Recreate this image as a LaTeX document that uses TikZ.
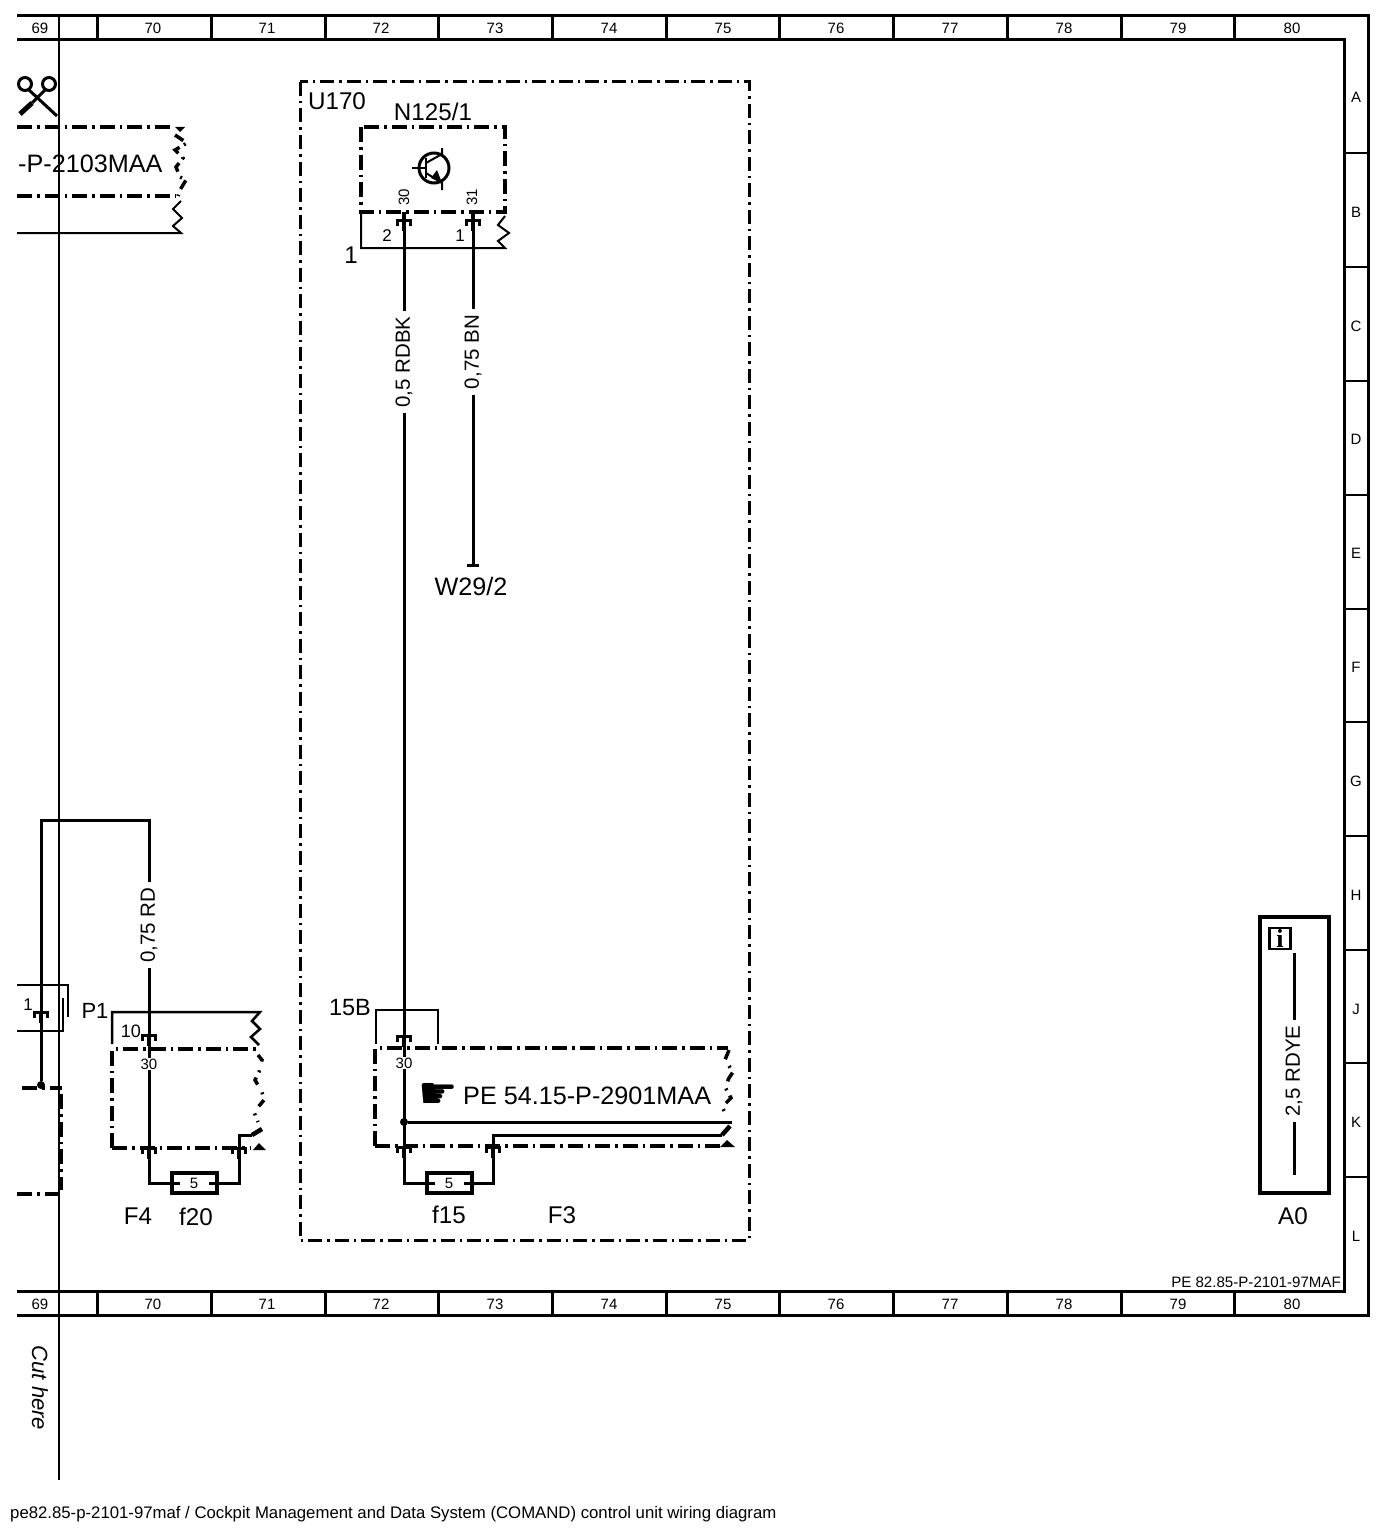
\documentclass[tikz,border=0pt]{standalone}
\usepackage{fontspec}
\setmainfont{Liberation Sans}
\newfontfamily\symfont{DejaVu Sans}
\newfontfamily\infofont{Liberation Serif}
\usetikzlibrary{positioning, calc}

\tikzset{
	biglabel/.style={font=\fontsize{25.2}{25}\selectfont, inner sep=0pt},
	midlabel/.style={font=\fontsize{24.2}{24}\selectfont, inner sep=0pt},
	framelabel/.style={font=\fontsize{15}{15}\selectfont, inner sep=0pt, anchor=base},
	ticklabel/.style={font=\fontsize{15}{15}\selectfont, inner sep=0pt},
	wirelabel/.style={font=\fontsize{20.5}{20}\selectfont, rotate=90, inner sep=5.5pt},
	pinlabel/.style={font=\fontsize{15}{15}\selectfont, inner sep=1pt, fill=white},
	wire/.style={line width=3pt},
	thinwire/.style={line width=2pt},
	stem/.style={line width=4.5pt},
	frameline/.style={line width=3pt},
	dashbox/.style={line width=4pt, dash pattern=on 15pt off 5pt on 2.5pt off 5pt},
	fusebox/.style={draw, line width=4pt, minimum width=45pt, minimum height=20pt, inner sep=0pt, font=\fontsize{15}{15}\selectfont}
}

\newcommand{\pinmark}[1]{
	\draw[line width=3pt] ([shift={(-6.5,5.5)}]#1) -- ++(0,-5.5) -- ++(13,0) -- ++(0,5.5);
	\draw[stem] (#1) -- ++(0,11);
}

\begin{document}
\begin{tikzpicture}[x=1pt, y=-1pt]
	\useasboundingbox (0,0) rectangle (1388,1536);
	\fill[white] (0,0) rectangle (1388,1536);

	%//sheet frame
	\draw[frameline] (17,16) -- (1368,16) -- (1368,1315) -- (17,1315);
	\draw[frameline] (17,40) -- (1344,40) -- (1344,1291) -- (17,1291);
	\foreach \x in {97,211,325,438,552,666,779,893,1007,1121,1234}
	{
		\draw[frameline] (\x,16) -- (\x,40);
		\draw[frameline] (\x,1291) -- (\x,1315);
	}
	\foreach \y in {153,267,381,495,609,722,836,950,1063,1177}
	\draw[line width=2.5pt] (1344,\y) -- (1368,\y);

	\foreach \x/\val in {40/69,153/70,267/71,381/72,495/73,609/74,723/75,836/76,950/77,1064/78,1178/79,1292/80}
	{
		\node[framelabel] (top\val) at (\x,34) {\val};
		\node[framelabel] (bot\val) at (\x,1309) {\val};
	}
	\foreach \y/\val in {103/A,217/B,331/C,444/D,558/E,672/F,786/G,900/H,1014/J,1127/K,1241/L}
	\node[framelabel] (row\val) at (1356,\y) {\val};

	\node[ticklabel, font=\fontsize{15.1}{15}\selectfont, anchor=east] (sheetref) at (1341,1282) {PE 82.85-P-2101-97MAF};
	\node[font=\fontsize{16.75}{17}\selectfont, inner sep=0pt, anchor=west] (caption) at (10,1514) {pe82.85-p-2101-97maf / Cockpit Management and Data System (COMAND) control unit wiring diagram};
	\node[font=\itshape\fontsize{22}{22}\selectfont, inner sep=0pt, rotate=-90] (cuthere) at (40,1388) {Cut here};

	%//scissors
	\draw[line width=3pt] (25,84) circle (6.5pt) (49,84) circle (6.5pt);
	\draw[line width=3pt] (29,90) -- (57,116);
	\draw[line width=3pt] (45,90) -- (32,103);
	\draw[line width=5pt] (32,103) -- (20,114);

	%//sheet 2103 reference, top left
	\draw[dashbox] (17,127) -- (172,127);
	\fill (175,127) -- (185,127) -- (180,132) -- cycle;
	\draw[dashbox] (17,196) -- (176,196);
	\draw[line width=3.5pt, dash pattern=on 10pt off 6pt on 2pt off 5pt] (175,135) -- (187,143) -- (175,150) -- (183,158) -- (176,167) -- (180,177) -- (186,180) -- (180,190) -- (178,196);
	\draw[thinwire] (17,233) -- (181,233) -- (173,226) -- (182,218) -- (173,209) -- (181,201);
	\node[biglabel, anchor=west] (ref2103) at (18,164) {-P-2103MAA};

	%//unit U170
	\draw[line width=3pt, dash pattern=on 14pt off 5pt on 2.5pt off 5pt] (300,82) rectangle (749,1240);
	\node[midlabel] (u170) at (337,101) {U170};

	%//N125/1 with the transistor
	\node[midlabel] (n125) at (433,112) {N125/1};
	\draw[dashbox] (361,127) rectangle (505,212);
	\node[circle, draw, line width=3pt, minimum size=30pt, inner sep=0pt] (tr) at (434,168) {};
	\draw[line width=2pt] (412,168) -- (426,168);
	\draw[line width=2.5pt] (426,158) -- (426,178);
	\draw[line width=2pt] (426,163) -- (442,154) -- (442,148);
	\draw[line width=2pt] (426,173) -- (442,183) -- (442,190);
	\fill (442,183) -- (431,178) -- (437,170) -- cycle;
	\draw[thinwire] (361,212) -- (361,248) -- (505,248) -- (498,241) -- (509,233) -- (498,225) -- (505,216);
	\node[midlabel] (shield1) at (351,255) {1};

	\coordinate (pin30) at (404,220);
	\coordinate (pin31) at (473,220);
	\pinmark{pin30}
	\pinmark{pin31}
	\draw[stem] (pin30) -- ++(0,-8);
	\draw[stem] (pin31) -- ++(0,-8);
	\node[ticklabel, rotate=90] (n30) at (404,197) {30};
	\node[ticklabel, rotate=90] (n31) at (472,197) {31};
	\node[ticklabel, font=\fontsize{17}{17}\selectfont] (n2) at (387,236) {2};
	\node[ticklabel, font=\fontsize{17}{17}\selectfont] (n1) at (460,236) {1};

	\node[wirelabel] (w05) at (404,362) {0,5 RDBK};
	\node[wirelabel] (w075) at (473,352) {0,75 BN};
	\coordinate (pin15) at (404,1036);
	\coordinate (end29) at (473,565);
	\draw[wire] (pin30) -- (w05);
	\draw[wire] (w05) -- (pin15);
	\draw[wire] (pin31) -- (w075);
	\draw[wire] (w075) -- (end29);
	\draw[wire] (467,565) -- (479,565);
	\node[biglabel] (w29) at (471,586) {W29/2};

	%//fuse f15, F3
	\node[biglabel, font=\fontsize{23.5}{24}\selectfont] (n15b) at (350,1008) {15B};
	\draw[thinwire] (376,1044) -- (376,1010) -- (438,1010) -- (438,1044);
	\draw[dashbox] (375,1146) -- (375,1048) -- (728,1048);
	\draw[dashbox] (375,1146) -- (720,1146);
	\draw[line width=3.5pt, dash pattern=on 10pt off 8pt on 2pt off 6pt] (729,1050) -- (725,1060) -- (733,1072) -- (729,1078) -- (725,1087) -- (731,1098) -- (722,1107) -- (727,1116);
	\fill (720,1147) -- (735,1147) -- (727,1140) -- cycle;
	\coordinate (pinf15a) at (404,1147);
	\coordinate (pinf15b) at (493,1147);
	\pinmark{pin15}
	\node[fusebox] (f15) at (449,1183) {5};
	\draw[wire] (pin15) -- (pinf15a);
	\node[pinlabel] (p30b) at (404,1063) {30};
	\node[circle, fill, inner sep=0pt, minimum size=8pt] (junc) at (404,1122) {};
	\draw[wire] (junc) -- (732,1122);
	\draw[wire] (pinf15b) -- (493,1135) -- (722,1135);
	\draw[stem] (722,1135) -- (730,1126);
	\pinmark{pinf15a}
	\pinmark{pinf15b}
	\draw[wire] (pinf15a) |- (f15.west);
	\draw[wire] (pinf15b) |- (f15.east);
	\draw[wire] (f15.west) -- ++(10,0) (f15.east) -- ++(-10,0);
	\node[font=\symfont\fontsize{44}{44}\selectfont, inner sep=0pt] (hand) at (438,1096) {☛};
	\node[biglabel, anchor=west] (ref2901) at (463,1096) {PE 54.15-P-2901MAA};
	\node[midlabel] (f15lbl) at (449,1215) {f15};
	\node[midlabel] (f3lbl) at (562,1215) {F3};

	%//fuse f20, F4
	\node[biglabel, font=\fontsize{22}{22}\selectfont] (p1) at (95,1011) {P1};
	\draw[line width=2.5pt] (112,1044) -- (112,1012) -- (260,1012) -- (252,1021) -- (260,1029) -- (251,1037) -- (259,1045);
	\draw[dashbox] (112,1148) -- (112,1049) -- (260,1049);
	\draw[dashbox] (112,1148) -- (250,1148);
	\draw[line width=3.5pt, dash pattern=on 8pt off 9pt on 2pt off 6pt] (258,1055) -- (262,1060) -- (259,1072) -- (255,1080) -- (262,1092) -- (264,1100) -- (254,1112) -- (258,1122);
	\fill (253,1150) -- (266,1150) -- (259,1143) -- cycle;
	\node[biglabel, font=\fontsize{18}{18}\selectfont] (n10) at (131,1031) {10};
	\coordinate (pin10) at (149,1035);
	\coordinate (pinf20a) at (149,1148);
	\coordinate (pinf20b) at (239,1148);
	\coordinate (bendtop) at (41,820);
	\node[wirelabel] (w075rd) at (149,925) {0,75 RD};
	\node[fusebox] (f20) at (194,1183) {5};
	\node[circle, fill, inner sep=0pt, minimum size=8pt] (junc2) at (41,1085) {};
	\draw[wire] (junc2) -- (bendtop) -| (w075rd);
	\draw[wire] (w075rd) -- (pin10);
	\pinmark{pin10}
	\draw[wire] (pin10) -- (pinf20a);
	\node[pinlabel] (p30c) at (149,1064) {30};
	\draw[wire] (pinf20b) -- (239,1135) -- (252,1135);
	\draw[stem] (252,1135) -- (262,1129);
	\pinmark{pinf20a}
	\pinmark{pinf20b}
	\draw[wire] (pinf20a) |- (f20.west);
	\draw[wire] (pinf20b) |- (f20.east);
	\draw[wire] (f20.west) -- ++(10,0) (f20.east) -- ++(-10,0);
	\node[midlabel] (f4lbl) at (138,1216) {F4};
	\node[midlabel] (f20lbl) at (196,1217) {f20};

	%//left stub at the cut
	\draw[thinwire] (17,985) -- (68,985) -- (68,1017);
	\draw[thinwire] (17,1031) -- (63,1031) -- (63,998);
	\coordinate (pinleft) at (41,1012);
	\pinmark{pinleft}
	\node[ticklabel, font=\fontsize{17}{17}\selectfont] (n1left) at (28,1005) {1};
	\draw[dashbox] (22,1088) -- (62,1088);
	\draw[dashbox] (61,1094) -- (61,1190);
	\draw[dashbox] (17,1194) -- (62,1194);

	%//A0 box
	\draw[line width=4pt] (1260,917) rectangle (1329,1193);
	\node[draw, line width=2.5pt, minimum size=21pt, inner sep=0pt, font=\infofont\bfseries\fontsize{26}{26}\selectfont] (info) at (1280,938.5) {i};
	\node[wirelabel] (w25) at (1294,1071) {2,5 RDYE};
	\coordinate (a0top) at (1294,953);
	\coordinate (a0bot) at (1294,1175);
	\draw[wire] (a0top) -- (w25);
	\draw[wire] (w25) -- (a0bot);
	\node[midlabel] (a0) at (1293,1216) {A0};

	%//cut line
	\draw[line width=2.5pt] (59,16) -- (59,1480);
\end{tikzpicture}
\end{document}
